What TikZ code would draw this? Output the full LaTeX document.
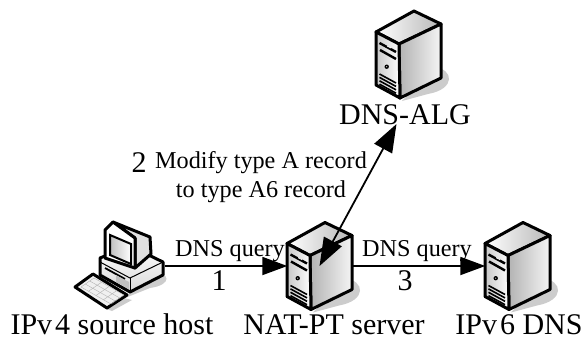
\documentclass[tikz,border=0pt]{standalone}
\usepackage{fontspec}
\setmainfont{Liberation Serif}
\usetikzlibrary{arrows.meta}
\newcommand{\bigtxt}{\fontsize{30}{30}\selectfont}
\newcommand{\smalltxt}{\fontsize{24.2}{29}\selectfont}
\tikzset{
	iconbox/.style={inner sep=0pt,minimum width=64pt,minimum height=87pt},
	hostbox/.style={inner sep=0pt,minimum width=90pt,minimum height=88pt},
	big/.style={font=\bigtxt,anchor=base,inner sep=0pt},
	small/.style={font=\smalltxt,anchor=base,inner sep=0pt},
	query/.style={line width=1.8pt,-{Triangle[length=25pt,width=18pt]}},
	modify/.style={line width=1.8pt,{Triangle[length=28pt,width=20pt]}-{Triangle[length=28pt,width=20pt]}},
	outline/.style={line width=3pt,line join=round},
	servericon/.pic={
		\begin{scope}[shift={(5.5,-43.5)}]
			\fill[black!20] (20,56) .. controls (40,58) and (42,78) .. (14,83) -- (-12,90) -- cycle;
			\draw[outline,left color=white,right color=black!28] (-38,21) -- (0,0) -- (27,13) -- (-15,33) -- cycle;
			\draw[outline,left color=black!30,right color=black!4] (-15,33) -- (27,13) -- (27,67) -- (-14,87) -- cycle;
			\draw[outline,left color=black!22,right color=white] (-38,21) -- (-15,33) -- (-14,87) -- (-38,74) -- cycle;
			\draw[line width=2.4pt] (-34.5,32) -- (-18,41);
			\draw[line width=2.4pt] (-34,39) -- (-18,48);
			\fill[white] (-27,34.5) -- (-23,36.5) -- (-23,37.5) -- (-27,35.5) -- cycle;
			\fill (-27.3,55.7) circle (2.2);
			\fill[black!25] (-27.3,55.7) circle (.7);
			\foreach \i in {0,3.4,6.8,10.2}
				\draw[line width=1.6pt] (-34.5,63+\i) -- (-18,72+\i);
		\end{scope}
	},
	hosticon/.pic={
		\begin{scope}[shift={(-120,-266)}]
			\fill[black!20] (150,272) .. controls (172,272) and (172,285) .. (150,288) -- (125,298) -- cycle;
			\fill[black!20] (120,297) -- (132,300) -- (112,311) -- (104,308) -- cycle;
			\draw[outline,top color=white,bottom color=black!15] (100,258) -- (130,246) -- (163,262) -- (163,275) -- (130,292) -- (100,275) -- cycle;
			\draw[line width=1pt] (100,262) -- (130,278) -- (163,262);
			\draw[line width=1pt] (130,278) -- (130,292);
			\draw[line width=1.8pt] (105,268) -- (125,279);
			\fill[black!25] (116,275) -- (129,282) -- (129,289) -- (116,282) -- cycle;
			\draw[outline,fill=black!12] (113,222) -- (150,237) -- (151,254) -- (135,268) -- (135,238) -- cycle;
			\draw[outline,fill=white] (105,230) -- (113,222) -- (135,238) -- (135,268) -- (105,258) -- cycle;
			\draw[line width=2pt,left color=black!25,right color=white] (110,235) -- (131,244) -- (131,264) -- (110,255) -- cycle;
			\draw[outline,fill=black!6] (75,287) -- (93,274) -- (127,295) -- (107,308) -- cycle;
			\foreach \i in {0,.25,.5,.75,1}
				\draw[black!30] ({81+\i*30},{287+\i*17}) -- ({94+\i*30},{278+\i*17});
			\foreach \i in {0,.33,.67,1}
				\draw[black!30] ({81+\i*13},{287-\i*9}) -- ({111+\i*13},{304-\i*9});
		\end{scope}
	}
}
\begin{document}
\begin{tikzpicture}[x=1pt,y=-1pt]
	\useasboundingbox (0,0) rectangle (585,338);
	\node[iconbox] (alg) at (408.5,54.5) {};
	\node[iconbox] (nat) at (319.5,266) {};
	\node[iconbox] (dns) at (517.5,266) {};
	\node[hostbox] (host) at (120,266) {};
	\pic at (alg) {servericon};
	\pic at (nat) {servericon};
	\pic at (dns) {servericon};
	\pic at (host) {hosticon};
	\node[big] (alglabel) at (405,124) {DNS-ALG};
	\node[big] (hostlabel) at (112,334) {IPv\kern3pt 4 source host};
	\node[big] (natlabel) at (334,334) {NAT-PT server};
	\node[big] (dnslabel) at (519,334) {IPv\kern3pt 6 DNS};
	\node[font=\smalltxt,align=center,inner sep=0pt] (record) at (261,177) {Modify type A record\\to type A6 record};
	\node[big] (two) at (139,172) {2};
	\node[small] (queryl) at (230,256) {DNS query};
	\node[small] (queryr) at (417,256) {DNS query};
	\node[big] (one) at (219,290) {1};
	\node[big] (three) at (405,290) {3};
	\coordinate (algtip) at (396.5,124);
	\draw[query] (host.east) -- (nat.west);
	\draw[query] (nat.east) -- (dns.west);
	\draw[modify] (nat.center) -- (algtip);
\end{tikzpicture}
\end{document}
